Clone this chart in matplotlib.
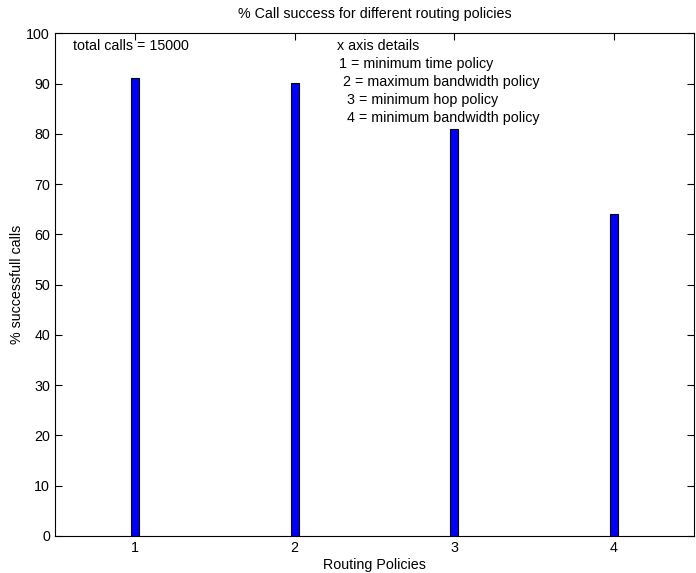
import matplotlib
matplotlib.use('Agg')
import matplotlib.pyplot as plt

plt.rcParams['font.family'] = ['Liberation Sans', 'DejaVu Sans']

policies = [1, 2, 3, 4]
success = [91.2, 90.1, 81.0, 64.0]
details = ['1 = minimum time policy', ' 2 = maximum bandwidth policy',
           '  3 = minimum hop policy', '  4 = minimum bandwidth policy']

fs = 10.3
fig = plt.figure(figsize=(6.96, 5.73), dpi=100)
ax = fig.add_axes([0.079, 0.0646, 0.918, 0.877])
ax.bar(policies, success, width=0.05, color='#0000ff', edgecolor='black', linewidth=0.8)
ax.set_axisbelow(True)
ax.set_xlim(0.5, 4.5)
ax.set_ylim(0, 100)
ax.set_xticks(policies)
ax.set_yticks(range(0, 101, 10))
ax.tick_params(direction='in', top=True, right=True, length=5, labelsize=fs)
ax.set_title('% Call success for different routing policies', fontsize=fs, pad=11)
ax.set_xlabel('Routing Policies', fontsize=fs, labelpad=2)
ax.set_ylabel('% successfull calls', fontsize=fs, labelpad=1.5)

ax.text(0.61, 97.5, 'total calls = 15000', fontsize=fs, va='center')
ax.text(2.265, 97.5, 'x axis details', fontsize=fs, va='center')
for i, s in enumerate(details):
    ax.text(2.28, 93.9 - i * 3.6, s, fontsize=fs, va='center')

fig.savefig('out.png', dpi=100)
